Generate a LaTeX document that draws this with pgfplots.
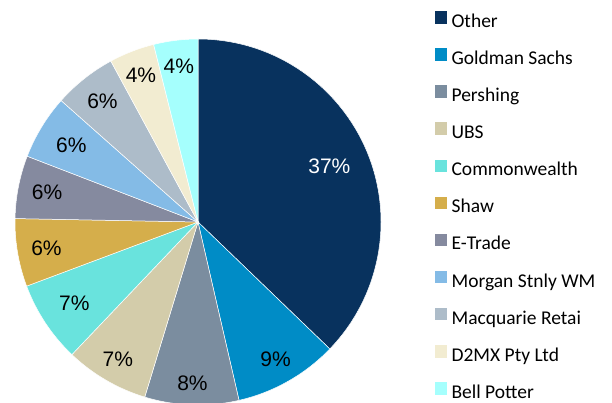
\documentclass[border=0pt]{standalone}
\usepackage{fontspec}
\setmainfont{Carlito}
\newfontfamily\labelfont{Liberation Sans}
\usepackage{pgfplots}
\usepackage{pgfplotstable}
\pgfplotsset{compat=1.18}

\definecolor{c0}{HTML}{08325E}
\definecolor{c1}{HTML}{008CC6}
\definecolor{c2}{HTML}{7B8D9F}
\definecolor{c3}{HTML}{D3CCAA}
\definecolor{c4}{HTML}{69E3DD}
\definecolor{c5}{HTML}{D5AE4B}
\definecolor{c6}{HTML}{858A9F}
\definecolor{c7}{HTML}{84BBE6}
\definecolor{c8}{HTML}{ADBCC9}
\definecolor{c9}{HTML}{F2ECD1}
\definecolor{c10}{HTML}{A5FFFD}

% share in %, lr = label distance (fraction of radius), tc = label colour
\pgfplotstableread[col sep=comma]{
name,share,lr,tc
Other,37.2,0.78,white
Goldman Sachs,9.2,0.86,black
Pershing,8.3,0.88,black
UBS,7.4,0.87,black
Commonwealth,7.2,0.81,black
Shaw,6.0,0.84,black
E-Trade,5.55,0.84,black
Morgan Stnly WM,5.7,0.81,black
Macquarie Retai,5.55,0.84,black
D2MX Pty Ltd,4.0,0.86,black
Bell Potter,3.9,0.86,black
}\pie

\begin{document}
\begin{tikzpicture}
\useasboundingbox (0,0) rectangle (612bp,403bp);
\begin{axis}[
  at={(198bp,181bp)}, anchor=center,
  scale only axis, width=366bp, height=366bp,
  xmin=-1, xmax=1, ymin=-1, ymax=1,
  hide axis, clip=false,
  legend style={at={(axis description cs:1.1475,1.0765)}, anchor=north west,
    draw=none, fill=none, inner sep=0pt, row sep=16.9bp, column sep=5bp,
    font=\fontsize{19.5bp}{22bp}\selectfont,
    nodes={inner sep=0pt, text height=13bp, text depth=4bp}},
  legend cell align=left,
]
\gdef\cumacc{0}
\pgfplotsinvokeforeach{0,...,10}{
  \pgfplotstablegetelem{#1}{share}\of\pie \let\s\pgfplotsretval
  \pgfplotstablegetelem{#1}{lr}\of\pie \let\lr\pgfplotsretval
  \pgfplotstablegetelem{#1}{tc}\of\pie \let\tc\pgfplotsretval
  \pgfmathsetmacro\aA{90-3.6*\cumacc}
  \pgfmathsetmacro\newcum{\cumacc+\s}
  \global\let\cumacc\newcum
  \pgfmathsetmacro\aB{90-3.6*\cumacc}
  \pgfmathsetmacro\aM{(\aA+\aB)/2}
  \pgfmathsetmacro\lx{\lr*cos(\aM)}
  \pgfmathsetmacro\ly{\lr*sin(\aM)}
  \pgfmathsetmacro\aX{cos(\aA)}
  \pgfmathsetmacro\aY{sin(\aA)}
  \pgfmathtruncatemacro\pc{round(\s)}
  \edef\cmd{\noexpand\fill[c#1, draw=white, line width=0.5bp] (axis cs:0,0) -- (axis cs:\aX,\aY)
      arc[start angle=\aA, end angle=\aB, radius=183bp] -- cycle;
    \noexpand\node[text=\tc, font=\noexpand\labelfont\noexpand\fontsize{21bp}{24bp}\noexpand\selectfont]
      at (axis cs:\lx,\ly) {\pc\noexpand\%};}
  \cmd
  \addlegendimage{legend image code/.code={\fill[c#1] (0bp,0bp) rectangle (11bp,11.5bp);}}
  \pgfplotstablegetelem{#1}{name}\of\pie
  \addlegendentryexpanded{\pgfplotsretval}
}
\end{axis}
\end{tikzpicture}
\end{document}
